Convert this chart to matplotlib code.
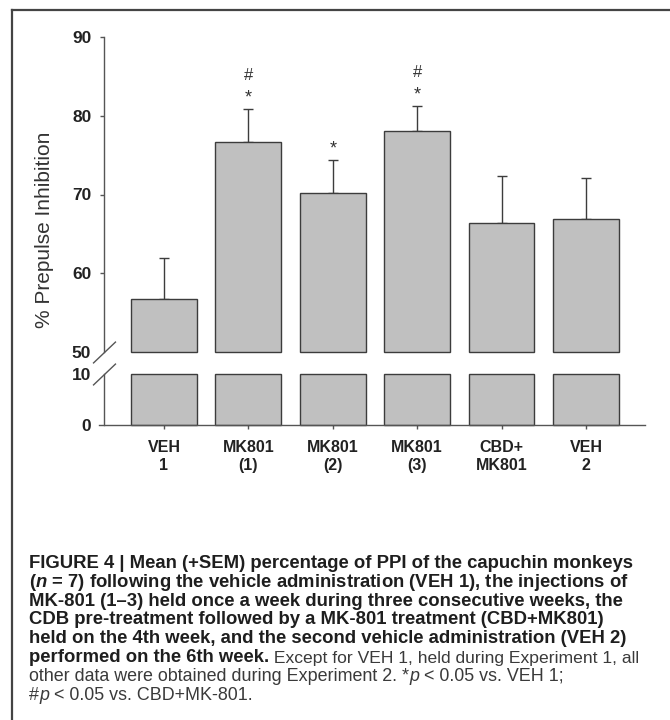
import matplotlib
matplotlib.use("Agg")
import matplotlib.pyplot as plt
from matplotlib.lines import Line2D

plt.rcParams['font.family'] = ['Liberation Sans', 'DejaVu Sans']
plt.rcParams['mathtext.fontset'] = 'custom'
plt.rcParams['mathtext.rm'] = 'Liberation Sans'
plt.rcParams['mathtext.it'] = 'Liberation Sans:italic'
plt.rcParams['mathtext.bf'] = 'Liberation Sans:italic:bold'

# data
groups = ["VEH\n1", "MK801\n(1)", "MK801\n(2)", "MK801\n(3)", "CBD+\nMK801", "VEH\n2"]
means = [56.7, 76.7, 70.2, 78.1, 66.4, 66.9]
sem = [5.2, 4.15, 4.2, 3.1, 5.9, 5.2]
star = [False, True, True, True, False, False]   # p < 0.05 vs VEH 1
hashm = [False, True, False, True, False, False]  # p < 0.05 vs CBD+MK801

top_ticks = [50, 60, 70, 80, 90]
bot_ticks = [0, 10]

caption_bold = [
    "FIGURE 4 | Mean (+SEM) percentage of PPI of the capuchin monkeys",
    r"($\mathbf{n}$ = 7) following the vehicle administration (VEH 1), the injections of",
    "MK-801 (1\u20133) held once a week during three consecutive weeks, the",
    "CDB pre-treatment followed by a MK-801 treatment (CBD+MK801)",
    "held on the 4th week, and the second vehicle administration (VEH 2)",
    "performed on the 6th week.",
]
caption_tail = " Except for VEH 1, held during Experiment 1, all"
# plain lines as (text, italic) pieces
caption_plain = [
    [("other data were obtained during Experiment 2. *", False), ("p", True),
     (" < 0.05 vs. VEH 1;", False)],
    [("#", False), ("p", True), (" < 0.05 vs. CBD+MK-801.", False)],
]

W, H = 670, 720
fig = plt.figure(figsize=(W / 100, H / 100), dpi=100)

bar_fc = '#c0c0c0'
edge = '#3c3c3c'
axcol = '#555555'
x = list(range(len(groups)))
xlim = (-0.77, 5.70)
spine_x = -0.705

ax_top = fig.add_axes([99 / W, 1 - 352 / H, 546 / W, 315 / H])
ax_bot = fig.add_axes([99 / W, 1 - 425 / H, 546 / W, 51 / H])

# upper part (50-90)
ax_top.bar(x, [m - 50 for m in means], bottom=50, width=0.78, color=bar_fc,
           edgecolor=edge, linewidth=1.0, clip_on=False, zorder=2)
ax_top.errorbar(x, means, yerr=[[0] * len(sem), sem], fmt='none', ecolor=edge,
                elinewidth=1.0, capsize=3.8, capthick=1.0, zorder=1)
ax_top.set_ylim(50, 90)
ax_top.set_xlim(*xlim)
ax_top.set_yticks(top_ticks)

for xi, m, s, st, hs in zip(x, means, sem, star, hashm):
    if st:
        ax_top.annotate("*", (xi, m + s), xytext=(0, 6.5), textcoords='offset pixels',
                        ha='center', va='baseline', fontsize=13, color='#333333')
    if hs:
        ax_top.annotate("#", (xi, m + s), xytext=(0, 29), textcoords='offset pixels',
                        ha='center', va='baseline', fontsize=12, color='#333333')

# lower part (0-10)
ax_bot.bar(x, [10] * len(x), width=0.78, color=bar_fc, edgecolor=edge,
           linewidth=1.0, clip_on=False, zorder=2)
ax_bot.set_ylim(0, 10)
ax_bot.set_xlim(*xlim)
ax_bot.set_yticks(bot_ticks)
ax_bot.set_xticks(x)
ax_bot.set_xticklabels(groups, fontsize=11.5, fontweight='bold', color='#222222')

for a in (ax_top, ax_bot):
    a.patch.set_visible(False)
    a.spines['top'].set_visible(False)
    a.spines['right'].set_visible(False)
    a.spines['left'].set_position(('data', spine_x))
    a.spines['left'].set_color(axcol)
    a.spines['left'].set_linewidth(1.0)
    a.tick_params(axis='y', direction='out', length=3, width=1.0, color=axcol,
                  pad=6.5, labelsize=12.5)
    for lab in a.get_yticklabels():
        lab.set_fontweight('bold')
        lab.set_color('#222222')

ax_top.spines['bottom'].set_visible(False)
ax_top.tick_params(axis='x', bottom=False, labelbottom=False)
ax_bot.spines['bottom'].set_color(axcol)
ax_bot.spines['bottom'].set_linewidth(1.0)
ax_bot.tick_params(axis='x', direction='out', length=3, width=1.0, color=axcol, pad=8)

# hide tick marks where the break marks / x axis sit
ax_top.yaxis.get_major_ticks()[0].tick1line.set_visible(False)
for t in ax_bot.yaxis.get_major_ticks():
    t.tick1line.set_visible(False)

# axis break marks
brk = [(-1, -0.95), (1, 0.95)]
ax_top.plot([spine_x], [50], marker=brk, markersize=16.5, mec=axcol, mew=1.0,
            linestyle='none', clip_on=False)
ax_bot.plot([spine_x], [10], marker=brk, markersize=16.5, mec=axcol, mew=1.0,
            linestyle='none', clip_on=False)

fig.text(45 / W, 1 - 230 / H, "% Prepulse Inhibition", rotation=90, ha='center',
         va='center', fontsize=15, color='#333333')

# outer frame (top and left edges visible)
fig.add_artist(Line2D([12 / W, 1], [1 - 10 / H, 1 - 10 / H], transform=fig.transFigure,
                      color='#444444', lw=1.6))
fig.add_artist(Line2D([12 / W, 12 / W], [0, 1 - 10 / H], transform=fig.transFigure,
                      color='#444444', lw=1.6))

# caption
cap_x = 29 / W
base0 = 568
pitch = 18.8
bold_fs = 13.3
plain_fs = 12.9
plain_col = '#3a3a3a'
last = None
for i, line in enumerate(caption_bold):
    last = fig.text(cap_x, 1 - (base0 + i * pitch) / H, line, fontsize=bold_fs,
                    fontweight='bold', color='#1e1e1e', va='baseline', ha='left')
ax_bot.annotate(caption_tail, xy=(1, 0), xycoords=last, va='bottom', ha='left',
                fontsize=12.6, color=plain_col, annotation_clip=False)

for j, pieces in enumerate(caption_plain):
    k = len(caption_bold) + j
    prev = None
    for txt, ital in pieces:
        style = 'italic' if ital else 'normal'
        if prev is None:
            prev = fig.text(cap_x, 1 - (base0 + k * pitch) / H, txt, fontsize=plain_fs,
                            color=plain_col, style=style, va='baseline', ha='left')
        else:
            prev = ax_bot.annotate(txt, xy=(1, 0), xycoords=prev, va='bottom', ha='left',
                                   fontsize=plain_fs, color=plain_col, style=style,
                                   annotation_clip=False)

fig.savefig("out.png", dpi=100)
